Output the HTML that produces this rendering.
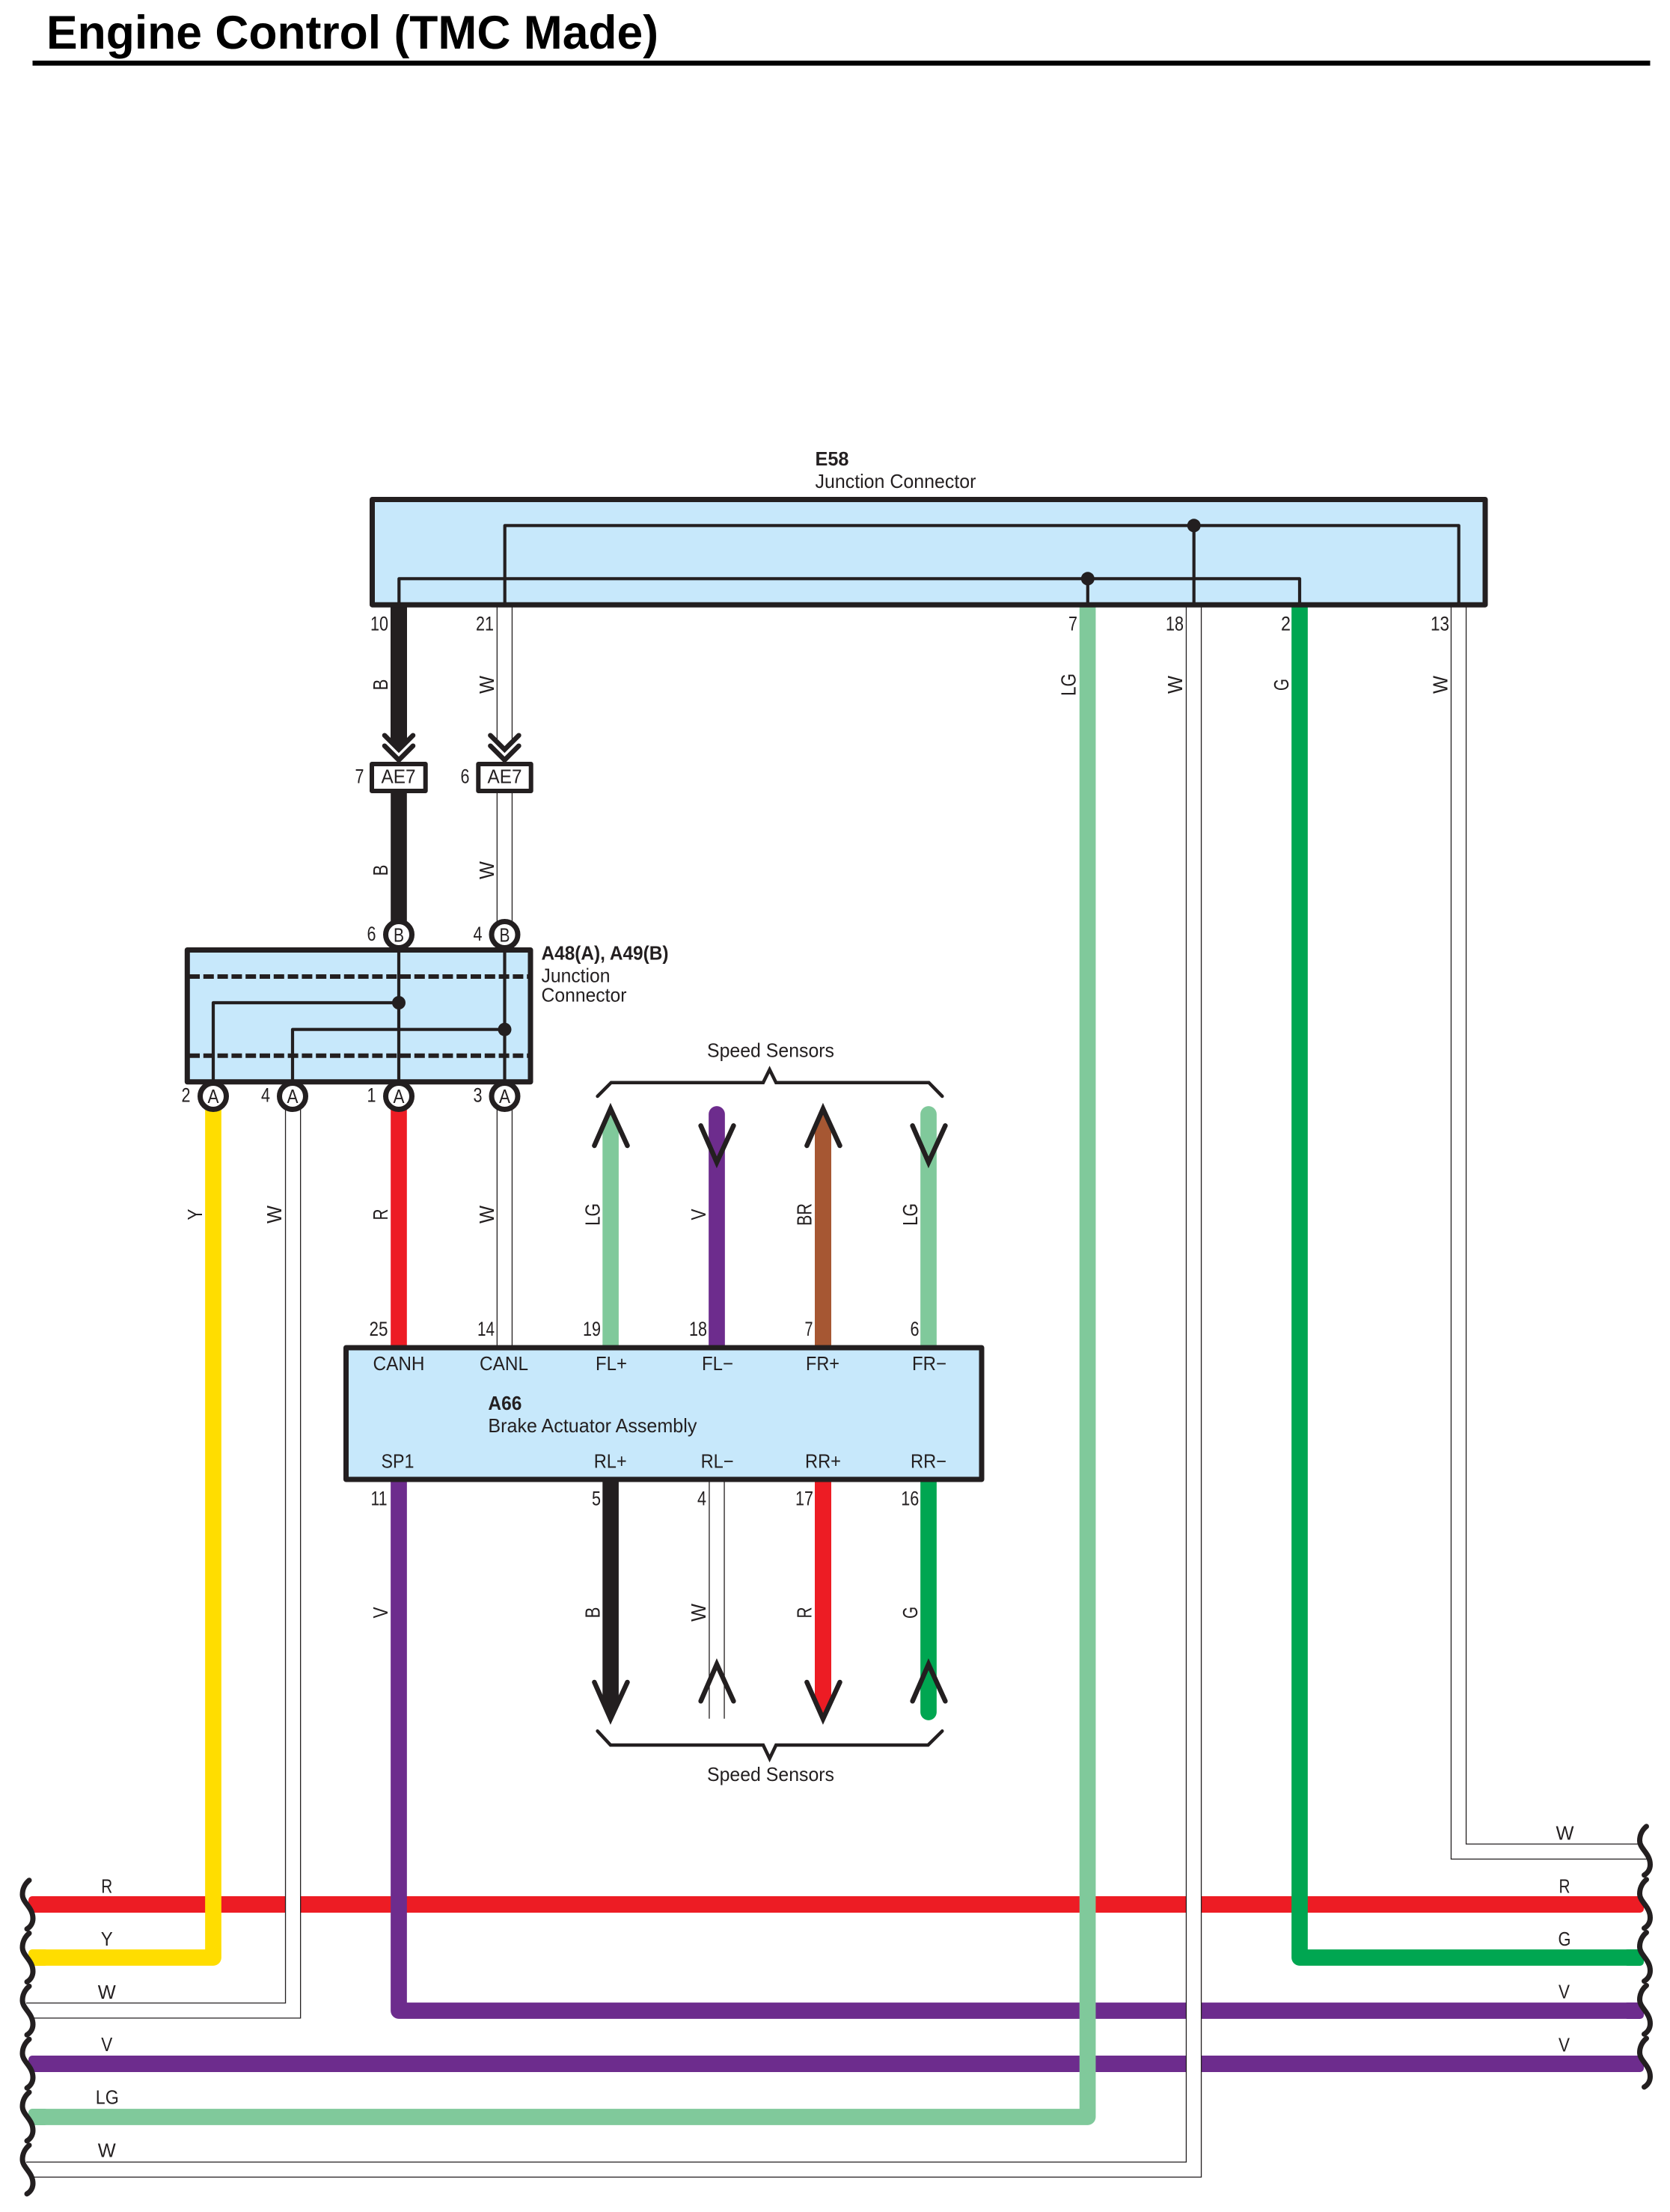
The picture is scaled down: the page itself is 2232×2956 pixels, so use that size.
<!DOCTYPE html>
<html><head><meta charset="utf-8"><title>Engine Control (TMC Made)</title>
<style>
html,body{margin:0;padding:0;background:#fff}
svg{display:block}
text{font-family:"Liberation Sans",Arial,sans-serif;fill:#231f20;font-size:26px}
.n{font-size:27px;text-anchor:middle}
.c{text-anchor:middle}
.b{font-weight:bold}
.wo{fill:none;stroke:#231f20;stroke-width:21.4;stroke-linejoin:miter}
.wi{fill:none;stroke:#fff;stroke-width:18.8;stroke-linejoin:miter}
.w{fill:none;stroke-width:21.7;stroke-linejoin:round}
.k{fill:none;stroke:#231f20;stroke-width:6.5;stroke-linecap:round;stroke-linejoin:miter}
.br{fill:none;stroke:#231f20;stroke-width:4.5;stroke-linecap:round;stroke-linejoin:miter}
.l{fill:none;stroke:#231f20;stroke-width:4.2;stroke-linejoin:round}
.box{fill:#c7e8fb;stroke:#231f20;stroke-width:7;stroke-linejoin:round}
.cir{fill:#fff;stroke:#231f20;stroke-width:7}
.wv{fill:none;stroke:#231f20;stroke-width:7;stroke-linecap:round}
</style></head><body>
<svg xmlns="http://www.w3.org/2000/svg" width="2232" height="2956" viewBox="0 0 2232 2956">
<rect width="2232" height="2956" fill="#fff"/>

<!-- Title -->
<text x="62" y="65" class="b" style="font-size:63px;fill:#000" textLength="818" lengthAdjust="spacingAndGlyphs">Engine Control (TMC Made)</text>
<rect x="43.5" y="81" width="2162" height="6.7" fill="#000"/>

<!-- Horizontal wires -->
<rect x="38" y="2534" width="2159" height="22" rx="5" fill="#ed1c24"/>
<rect x="38" y="2747" width="2159" height="22" rx="5" fill="#6d2c8d"/>
<rect x="2170" y="2676" width="27" height="22" rx="5" fill="#6d2c8d"/>
<rect x="2170" y="2605" width="27" height="22" rx="5" fill="#00a651"/>
<rect x="38" y="2605" width="27" height="22" rx="5" fill="#ffdd00"/>
<rect x="38" y="2818" width="27" height="22" rx="5" fill="#80c99b"/>

<!-- Routed wires -->
<path class="w" stroke="#6d2c8d" d="M533 1977V2687H2180"/>
<path class="w" stroke="#80c99b" d="M1453.6 811V2829H50"/>
<path class="w" stroke="#00a651" d="M1737 811V2616H2180"/>
<path class="w" stroke="#ffdd00" d="M285 1480V2616H50"/>

<!-- Upper vertical solid wires -->
<polygon fill="#231f20" points="522,811 544,811 544,988 533,999 522,988"/>
<rect x="522.2" y="1055" width="21.6" height="180" fill="#231f20"/>
<rect x="522.2" y="1470" width="21.6" height="335" fill="#ed1c24"/>
<polygon fill="#80c99b" points="805.3,1805 805.3,1506 816,1482 826.9,1506 826.9,1805"/>
<path class="w" stroke="#6d2c8d" stroke-linecap="round" d="M958 1489V1800"/>
<polygon fill="#a65733" points="1089,1805 1089,1506 1100,1482 1111,1506 1111,1805"/>
<path class="w" stroke="#80c99b" stroke-linecap="round" d="M1241 1489V1800"/>

<!-- Lower vertical solid wires -->
<polygon fill="#231f20" points="805.3,1975 826.9,1975 826.9,2272 816,2297 805.3,2272"/>
<polygon fill="#ed1c24" points="1089,1975 1111,1975 1111,2272 1100,2297 1089,2272"/>
<path class="w" stroke="#00a651" stroke-linecap="round" d="M1241 1975V2288"/>

<!-- White cased wires -->
<g>
<path class="wo" d="M674.4 811V988"/><path class="wi" d="M674.4 810V989"/>
<path class="wo" d="M674.4 1055V1250"/><path class="wi" d="M674.4 1054V1251"/>
<path class="wo" d="M674.4 1480V1802"/><path class="wi" d="M674.4 1479V1803"/>
<path class="wo" d="M958 1975V2296.7"/><path class="wi" d="M958 1974V2298"/>
<path class="wo" d="M391.6 1480V2686.8H35"/><path class="wi" d="M391.6 1479V2686.8H34"/>
<path class="wo" d="M1595.5 811V2899.3H35"/><path class="wi" d="M1595.5 810V2899.3H34"/>
<path class="wo" d="M1949.5 811V2474.3H2202"/><path class="wi" d="M1949.5 810V2474.3H2203"/>
<rect x="30" y="2695.5" width="13" height="3.5" fill="#fff"/>
<rect x="30" y="2907.5" width="13" height="3.5" fill="#fff"/>
<rect x="2192" y="2462.5" width="14" height="3.5" fill="#fff"/>
</g>

<!-- E58 -->
<rect class="box" x="497.5" y="667.5" width="1487.5" height="140.7"/>
<path class="l" d="M533.3 808V773.3H1737V808"/>
<path class="l" d="M674.7 808V702.3H1949.7V808"/>
<path class="l" d="M1453.8 773V808"/>
<path class="l" d="M1595.7 702V808"/>
<circle cx="1453.8" cy="773.3" r="9" fill="#231f20"/>
<circle cx="1595.7" cy="702.3" r="9" fill="#231f20"/>
<text x="1089.5" y="622" class="b" textLength="45" lengthAdjust="spacingAndGlyphs">E58</text>
<text x="1089.5" y="652" textLength="215" lengthAdjust="spacingAndGlyphs">Junction Connector</text>

<text class="n" x="507" y="842.5" textLength="24" lengthAdjust="spacingAndGlyphs">10</text>
<text class="n" x="648" y="842.5" textLength="24" lengthAdjust="spacingAndGlyphs">21</text>
<text class="n" x="1434" y="842.5" textLength="12" lengthAdjust="spacingAndGlyphs">7</text>
<text class="n" x="1570" y="842.5" textLength="24" lengthAdjust="spacingAndGlyphs">18</text>
<text class="n" x="1718.5" y="842.5" textLength="13" lengthAdjust="spacingAndGlyphs">2</text>
<text class="n" x="1924.5" y="842.5" textLength="25" lengthAdjust="spacingAndGlyphs">13</text>

<g class="rot">
<text class="c" transform="translate(518 915) rotate(-90)" textLength="15" lengthAdjust="spacingAndGlyphs" style="font-size:28px">B</text>
<text class="c" transform="translate(660 915) rotate(-90)" textLength="24" lengthAdjust="spacingAndGlyphs" style="font-size:28px">W</text>
<text class="c" transform="translate(1437.7 915) rotate(-90)" textLength="30" lengthAdjust="spacingAndGlyphs" style="font-size:28px">LG</text>
<text class="c" transform="translate(1580 915) rotate(-90)" textLength="24" lengthAdjust="spacingAndGlyphs" style="font-size:28px">W</text>
<text class="c" transform="translate(1722 915) rotate(-90)" textLength="16" lengthAdjust="spacingAndGlyphs" style="font-size:28px">G</text>
<text class="c" transform="translate(1934.5 915) rotate(-90)" textLength="24" lengthAdjust="spacingAndGlyphs" style="font-size:28px">W</text>

<text class="c" transform="translate(518 1163) rotate(-90)" textLength="15" lengthAdjust="spacingAndGlyphs" style="font-size:28px">B</text>
<text class="c" transform="translate(660 1163) rotate(-90)" textLength="24" lengthAdjust="spacingAndGlyphs" style="font-size:28px">W</text>

<text class="c" transform="translate(270 1623) rotate(-90)" textLength="15" lengthAdjust="spacingAndGlyphs" style="font-size:28px">Y</text>
<text class="c" transform="translate(376 1623) rotate(-90)" textLength="24" lengthAdjust="spacingAndGlyphs" style="font-size:28px">W</text>
<text class="c" transform="translate(518 1623) rotate(-90)" textLength="15" lengthAdjust="spacingAndGlyphs" style="font-size:28px">R</text>
<text class="c" transform="translate(660 1623) rotate(-90)" textLength="24" lengthAdjust="spacingAndGlyphs" style="font-size:28px">W</text>
<text class="c" transform="translate(801.3 1623) rotate(-90)" textLength="30" lengthAdjust="spacingAndGlyphs" style="font-size:28px">LG</text>
<text class="c" transform="translate(943 1623) rotate(-90)" textLength="15" lengthAdjust="spacingAndGlyphs" style="font-size:28px">V</text>
<text class="c" transform="translate(1084.7 1623) rotate(-90)" textLength="30" lengthAdjust="spacingAndGlyphs" style="font-size:28px">BR</text>
<text class="c" transform="translate(1226 1623) rotate(-90)" textLength="30" lengthAdjust="spacingAndGlyphs" style="font-size:28px">LG</text>

<text class="c" transform="translate(518 2155) rotate(-90)" textLength="15" lengthAdjust="spacingAndGlyphs" style="font-size:28px">V</text>
<text class="c" transform="translate(801.3 2155) rotate(-90)" textLength="15" lengthAdjust="spacingAndGlyphs" style="font-size:28px">B</text>
<text class="c" transform="translate(943 2155) rotate(-90)" textLength="24" lengthAdjust="spacingAndGlyphs" style="font-size:28px">W</text>
<text class="c" transform="translate(1084.7 2155) rotate(-90)" textLength="15" lengthAdjust="spacingAndGlyphs" style="font-size:28px">R</text>
<text class="c" transform="translate(1226 2155) rotate(-90)" textLength="16" lengthAdjust="spacingAndGlyphs" style="font-size:28px">G</text>
</g>

<!-- Double chevrons + AE7 -->
<path class="k" d="M514 982.7L533 1001.7L552 982.7"/>
<path class="k" d="M514 996.7L533 1015.7L552 996.7"/>
<path class="k" d="M655.4 982.7L674.4 1001.7L693.4 982.7"/>
<path class="k" d="M655.4 996.7L674.4 1015.7L693.4 996.7"/>
<rect x="497" y="1021" width="71.7" height="36" fill="#fff" stroke="#231f20" stroke-width="6" stroke-linejoin="round"/>
<rect x="639.3" y="1021" width="70.4" height="36" fill="#fff" stroke="#231f20" stroke-width="6" stroke-linejoin="round"/>
<text class="c" x="532.5" y="1046.5" textLength="46" lengthAdjust="spacingAndGlyphs">AE7</text>
<text class="c" x="674.5" y="1046.5" textLength="46" lengthAdjust="spacingAndGlyphs">AE7</text>
<text class="n" x="480.5" y="1046.5" textLength="12" lengthAdjust="spacingAndGlyphs">7</text>
<text class="n" x="621.5" y="1046.5" textLength="12" lengthAdjust="spacingAndGlyphs">6</text>

<!-- A48/A49 -->
<rect class="box" x="250.3" y="1269.5" width="458.7" height="176.3"/>
<path d="M253 1305H707" fill="none" stroke="#231f20" stroke-width="6" stroke-dasharray="14 4.8"/>
<path d="M253 1410.7H707" fill="none" stroke="#231f20" stroke-width="6" stroke-dasharray="14 4.8"/>
<path class="l" d="M533 1269V1446"/>
<path class="l" d="M674.5 1269V1446"/>
<path class="l" d="M285 1446V1340H533"/>
<path class="l" d="M391 1446V1375.7H674.5"/>
<circle cx="533" cy="1340" r="9" fill="#231f20"/>
<circle cx="674.5" cy="1375.7" r="9" fill="#231f20"/>
<circle class="cir" cx="533" cy="1249" r="17.5"/>
<circle class="cir" cx="674.5" cy="1249" r="17.5"/>
<circle class="cir" cx="285" cy="1465" r="17.5"/>
<circle class="cir" cx="391" cy="1465" r="17.5"/>
<circle class="cir" cx="533" cy="1465" r="17.5"/>
<circle class="cir" cx="674.5" cy="1465" r="17.5"/>
<text class="c" x="533" y="1258.5" textLength="14" lengthAdjust="spacingAndGlyphs">B</text>
<text class="c" x="674.5" y="1258.5" textLength="14" lengthAdjust="spacingAndGlyphs">B</text>
<text class="c" x="285" y="1474" textLength="15" lengthAdjust="spacingAndGlyphs">A</text>
<text class="c" x="391" y="1474" textLength="15" lengthAdjust="spacingAndGlyphs">A</text>
<text class="c" x="533" y="1474" textLength="15" lengthAdjust="spacingAndGlyphs">A</text>
<text class="c" x="674.5" y="1474" textLength="15" lengthAdjust="spacingAndGlyphs">A</text>
<text class="n" x="496.5" y="1257" textLength="12" lengthAdjust="spacingAndGlyphs">6</text>
<text class="n" x="638.5" y="1257" textLength="12" lengthAdjust="spacingAndGlyphs">4</text>
<text class="n" x="248.5" y="1472.7" textLength="12" lengthAdjust="spacingAndGlyphs">2</text>
<text class="n" x="355" y="1472.7" textLength="12" lengthAdjust="spacingAndGlyphs">4</text>
<text class="n" x="496.5" y="1472.7" textLength="12" lengthAdjust="spacingAndGlyphs">1</text>
<text class="n" x="638.5" y="1472.7" textLength="12" lengthAdjust="spacingAndGlyphs">3</text>
<text x="723.5" y="1282.7" class="b" textLength="170" lengthAdjust="spacingAndGlyphs">A48(A), A49(B)</text>
<text x="723.5" y="1312.7" textLength="92" lengthAdjust="spacingAndGlyphs">Junction</text>
<text x="723.5" y="1338.5" textLength="114" lengthAdjust="spacingAndGlyphs">Connector</text>

<!-- Speed sensors top -->
<text x="945" y="1412.3" textLength="170" lengthAdjust="spacingAndGlyphs">Speed Sensors</text>
<path class="br" d="M798.6 1465L816.8 1446.7H1020L1028.6 1429.3L1037.2 1446.7H1241.4L1259.3 1465"/>
<path class="k" d="M794.4 1531L816 1481.7L838.5 1531"/>
<path class="k" d="M936.6 1504.3L958 1553.3L980.4 1504.3"/>
<path class="k" d="M1078.4 1531L1100 1481.7L1122.5 1531"/>
<path class="k" d="M1219.6 1504.3L1241 1553.3L1263.4 1504.3"/>

<!-- A66 -->
<rect class="box" x="462.5" y="1801" width="849.5" height="176"/>
<text class="c" x="533" y="1831" textLength="69" lengthAdjust="spacingAndGlyphs">CANH</text>
<text class="c" x="673.5" y="1831" textLength="65" lengthAdjust="spacingAndGlyphs">CANL</text>
<text class="c" x="817" y="1831" textLength="42" lengthAdjust="spacingAndGlyphs">FL+</text>
<text class="c" x="959" y="1831" textLength="42" lengthAdjust="spacingAndGlyphs">FL−</text>
<text class="c" x="1099.5" y="1831" textLength="45" lengthAdjust="spacingAndGlyphs">FR+</text>
<text class="c" x="1242" y="1831" textLength="46" lengthAdjust="spacingAndGlyphs">FR−</text>
<text class="c" x="531.5" y="1961.7" textLength="44" lengthAdjust="spacingAndGlyphs">SP1</text>
<text class="c" x="815.7" y="1961.7" textLength="44" lengthAdjust="spacingAndGlyphs">RL+</text>
<text class="c" x="958.6" y="1961.7" textLength="44" lengthAdjust="spacingAndGlyphs">RL−</text>
<text class="c" x="1100" y="1961.7" textLength="48" lengthAdjust="spacingAndGlyphs">RR+</text>
<text class="c" x="1241" y="1961.7" textLength="48" lengthAdjust="spacingAndGlyphs">RR−</text>
<text x="652.4" y="1884" class="b" textLength="45" lengthAdjust="spacingAndGlyphs">A66</text>
<text x="652.4" y="1914" textLength="279" lengthAdjust="spacingAndGlyphs">Brake Actuator Assembly</text>

<text class="n" x="506" y="1785" textLength="25" lengthAdjust="spacingAndGlyphs">25</text>
<text class="n" x="649.5" y="1785" textLength="23" lengthAdjust="spacingAndGlyphs">14</text>
<text class="n" x="791" y="1785" textLength="24" lengthAdjust="spacingAndGlyphs">19</text>
<text class="n" x="933" y="1785" textLength="24" lengthAdjust="spacingAndGlyphs">18</text>
<text class="n" x="1081" y="1785" textLength="11" lengthAdjust="spacingAndGlyphs">7</text>
<text class="n" x="1222.5" y="1785" textLength="12" lengthAdjust="spacingAndGlyphs">6</text>
<text class="n" x="506.5" y="2011.7" textLength="22" lengthAdjust="spacingAndGlyphs">11</text>
<text class="n" x="797" y="2011.7" textLength="12" lengthAdjust="spacingAndGlyphs">5</text>
<text class="n" x="938" y="2011.7" textLength="12" lengthAdjust="spacingAndGlyphs">4</text>
<text class="n" x="1075" y="2011.7" textLength="24" lengthAdjust="spacingAndGlyphs">17</text>
<text class="n" x="1216.3" y="2011.7" textLength="24" lengthAdjust="spacingAndGlyphs">16</text>

<!-- Speed sensors bottom -->
<path class="k" d="M794.4 2248L816 2297L838.5 2248"/>
<path class="k" d="M936.6 2273.3L958 2224L980.4 2273.3"/>
<path class="k" d="M1078.4 2248L1100 2297L1122.5 2248"/>
<path class="k" d="M1219.6 2273.3L1241 2224L1263.4 2273.3"/>
<path class="br" d="M798.6 2313.3L816 2332H1020L1028.6 2350L1037.2 2332H1240.4L1259.3 2313.3"/>
<text x="945" y="2380" textLength="170" lengthAdjust="spacingAndGlyphs">Speed Sensors</text>

<!-- Wave breaks: left -->
<path class="wv" d="M39 2512.7c-6 5-9 12-9 19 0 11 14 17 14 32 0 6-3 11-8 14"/>
<path class="wv" d="M39 2583.5c-6 5-9 12-9 19 0 11 14 17 14 32 0 6-3 11-8 14"/>
<path class="wv" d="M39 2654.3c-6 5-9 12-9 19 0 11 14 17 14 32 0 6-3 11-8 14"/>
<path class="wv" d="M39 2725.2c-6 5-9 12-9 19 0 11 14 17 14 32 0 6-3 11-8 14"/>
<path class="wv" d="M39 2796c-6 5-9 12-9 19 0 11 14 17 14 32 0 6-3 11-8 14"/>
<path class="wv" d="M39 2866.8c-6 5-9 12-9 19 0 11 14 17 14 32 0 6-3 11-8 14"/>
<!-- Wave breaks: right -->
<path class="wv" d="M2200.5 2440.7c-6 5-9 12-9 19 0 11 14 17 14 32 0 6-3 11-8 14"/>
<path class="wv" d="M2200.5 2511.7c-6 5-9 12-9 19 0 11 14 17 14 32 0 6-3 11-8 14"/>
<path class="wv" d="M2200.5 2582.5c-6 5-9 12-9 19 0 11 14 17 14 32 0 6-3 11-8 14"/>
<path class="wv" d="M2200.5 2653.3c-6 5-9 12-9 19 0 11 14 17 14 32 0 6-3 11-8 14"/>
<path class="wv" d="M2200.5 2724c-6 5-9 12-9 19 0 11 14 17 14 32 0 6-3 11-8 14"/>

<!-- Bus labels left -->
<text class="c" x="142.7" y="2529.3" textLength="15" lengthAdjust="spacingAndGlyphs">R</text>
<text class="c" x="142.7" y="2600" textLength="16" lengthAdjust="spacingAndGlyphs">Y</text>
<text class="c" x="142.7" y="2671" textLength="24" lengthAdjust="spacingAndGlyphs">W</text>
<text class="c" x="142.7" y="2741" textLength="15" lengthAdjust="spacingAndGlyphs">V</text>
<text class="c" x="143.3" y="2811.7" textLength="31" lengthAdjust="spacingAndGlyphs">LG</text>
<text class="c" x="142.7" y="2882.7" textLength="24" lengthAdjust="spacingAndGlyphs">W</text>
<!-- Bus labels right -->
<text class="c" x="2091.5" y="2458.3" textLength="24" lengthAdjust="spacingAndGlyphs">W</text>
<text class="c" x="2091" y="2529.3" textLength="15" lengthAdjust="spacingAndGlyphs">R</text>
<text class="c" x="2091" y="2600" textLength="17" lengthAdjust="spacingAndGlyphs">G</text>
<text class="c" x="2090.5" y="2670.7" textLength="15" lengthAdjust="spacingAndGlyphs">V</text>
<text class="c" x="2090.5" y="2741.3" textLength="15" lengthAdjust="spacingAndGlyphs">V</text>
</svg>
</body></html>
